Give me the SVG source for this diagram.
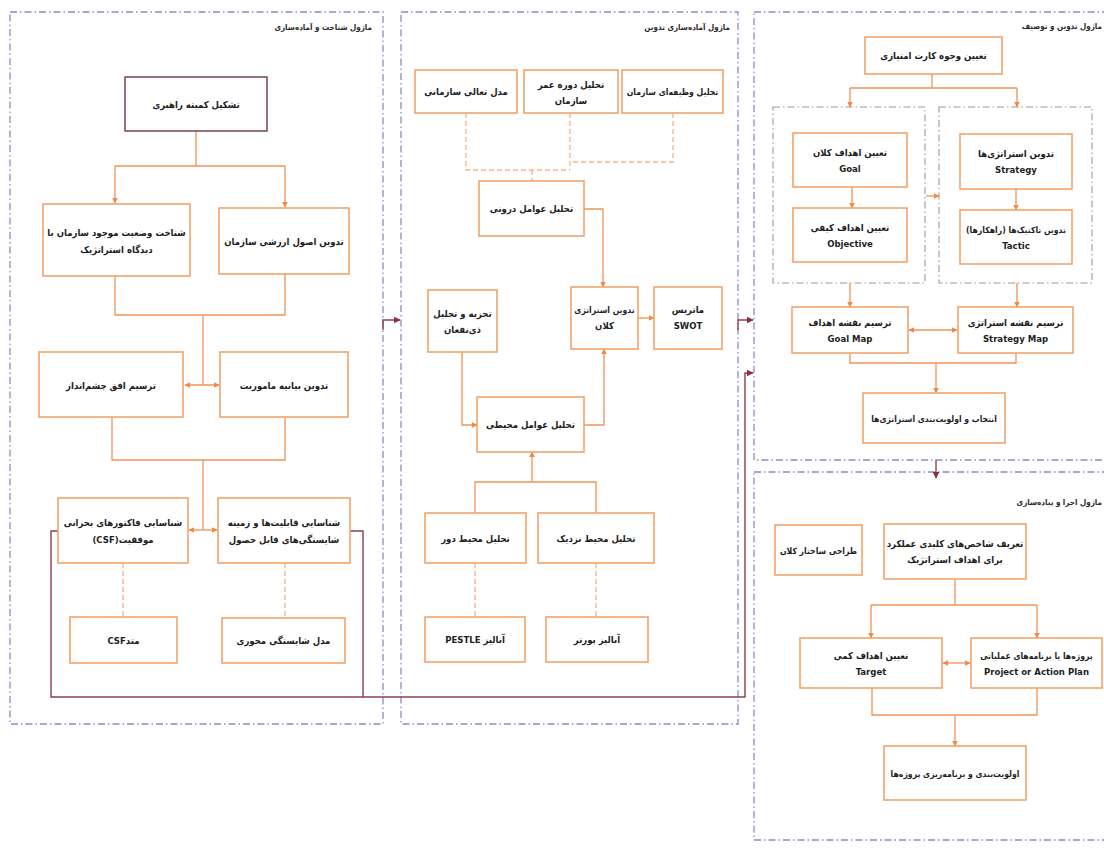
<svg xmlns="http://www.w3.org/2000/svg" width="1104" height="857" viewBox="0 0 1104 857">
  <defs>
    <style>
      .panel { fill: none; stroke: #8C8CBC; stroke-width: 1.3; stroke-dasharray: 7 3 1.5 3; }
      .group { fill: none; stroke: #9A9A9A; stroke-width: 1.1; stroke-dasharray: 7 3 1.5 3; }
      .box { fill: #FFFFFF; stroke: #F2A46A; stroke-width: 1.6; }
      .box-dark { fill: #FFFFFF; stroke: #7E4D66; stroke-width: 1.6; }
      .link { fill: none; stroke: #EE9455; stroke-width: 1.3; }
      .dash { fill: none; stroke: #F3B48A; stroke-width: 1.3; stroke-dasharray: 5 3; }
      .loop { fill: none; stroke: #8E3F52; stroke-width: 1.4; }
      .t { font-family: "DejaVu Sans Condensed", "DejaVu Sans", sans-serif; font-weight: bold; font-size: 9.5px; fill: #1E1E1E; text-anchor: middle; direction: rtl; }
      .t.s { font-size: 8.6px; }
      .title { font-family: "DejaVu Sans Condensed", "DejaVu Sans", sans-serif; font-weight: bold; font-size: 8px; fill: #2A2A2A; text-anchor: start; direction: rtl; }
    </style>
    <marker id="ah" viewBox="0 0 10 10" refX="9" refY="5" markerWidth="6" markerHeight="6" orient="auto-start-reverse" markerUnits="userSpaceOnUse">
      <path d="M0,0 L10,5 L0,10 z" fill="#EE8A45"/>
    </marker>
    <marker id="am" viewBox="0 0 10 10" refX="9" refY="5" markerWidth="7" markerHeight="7" orient="auto-start-reverse" markerUnits="userSpaceOnUse">
      <path d="M0,0 L10,5 L0,10 z" fill="#8E2F45"/>
    </marker>
  </defs>

  <rect width="1104" height="857" fill="#FFFFFF"/>

  <!-- module frames -->
  <g id="frames">
    <rect class="panel" x="10" y="12" width="373" height="712"/>
    <rect class="panel" x="401" y="12" width="337" height="712"/>
    <rect class="panel" x="754" y="12" width="356" height="448"/>
    <rect class="panel" x="754" y="472" width="356" height="368"/>
    <rect class="group" x="773" y="107" width="152" height="176"/>
    <rect class="group" x="939" y="107" width="153" height="176"/>
    <text class="title" x="372" y="30">ماژول شناخت و آماده‌سازی</text>
    <text class="title" x="730" y="30">ماژول آماده‌سازی تدوین</text>
    <text class="title" x="1102" y="29">ماژول تدوین و توصیف</text>
    <text class="title" x="1102" y="505">ماژول اجرا و پیاده‌سازی</text>
  </g>

  <!-- connectors -->
  <g id="connectors">
    <!-- module 1 -->
    <path class="link" d="M196,131 V166 M115,166 H285"/>
    <path class="link" d="M115,166 V203" marker-end="url(#ah)"/>
    <path class="link" d="M285,166 V207" marker-end="url(#ah)"/>
    <path class="link" d="M115,276 V315 H285 V274 M203,315 V385"/>
    <path class="link" d="M185,385 H219" marker-start="url(#ah)" marker-end="url(#ah)"/>
    <path class="link" d="M112,417 V460 H285 V417 M203,460 V530"/>
    <path class="link" d="M189,530 H217" marker-start="url(#ah)" marker-end="url(#ah)"/>
    <path class="dash" d="M123,563 V617 M285,563 V618"/>

    <!-- module 2 -->
    <path class="dash" d="M466,113 V170 H570 M570,113 V170 M673,113 V162 H570 M532,170 V181"/>
    <path class="link" d="M584,209 H603 V287" marker-end="url(#ah)"/>
    <path class="link" d="M638,318 H654" marker-end="url(#ah)"/>
    <path class="link" d="M462,352 V425 H477" marker-end="url(#ah)"/>
    <path class="link" d="M584,425 H604 V349" marker-end="url(#ah)"/>
    <path class="link" d="M475,513 V482 H596 V513"/>
    <path class="link" d="M532,482 V452" marker-end="url(#ah)"/>
    <path class="dash" d="M475,563 V617 M596,563 V617"/>

    <!-- module 3 -->
    <path class="link" d="M932,74 V88 M850,88 H1017"/>
    <path class="link" d="M850,88 V107" marker-end="url(#ah)"/>
    <path class="link" d="M1017,88 V107" marker-end="url(#ah)"/>
    <path class="link" d="M852,187 V208" marker-end="url(#ah)"/>
    <path class="link" d="M1016,189 V210" marker-end="url(#ah)"/>
    <path class="link" d="M926,196 H939" marker-end="url(#ah)"/>
    <path class="link" d="M850,283 V307" marker-end="url(#ah)"/>
    <path class="link" d="M1017,283 V307" marker-end="url(#ah)"/>
    <path class="link" d="M909,330 H957" marker-start="url(#ah)" marker-end="url(#ah)"/>
    <path class="link" d="M850,353 V363 H1016 V353"/>
    <path class="link" d="M936,363 V393" marker-end="url(#ah)"/>

    <!-- module 4 -->
    <path class="link" d="M955,579 V605 M871,605 H1037"/>
    <path class="link" d="M871,605 V638" marker-end="url(#ah)"/>
    <path class="link" d="M1037,605 V638" marker-end="url(#ah)"/>
    <path class="link" d="M943,663 H970" marker-start="url(#ah)" marker-end="url(#ah)"/>
    <path class="link" d="M872,688 V715 H1037 V688"/>
    <path class="link" d="M955,715 V746" marker-end="url(#ah)"/>

    <!-- links between modules -->
    <path class="loop" d="M383,330 V320 H400" marker-end="url(#am)"/>
    <path class="loop" d="M738,330 V320 H753" marker-end="url(#am)"/>
    <path class="loop" d="M58,531 H51 V697 H745 V373 H753" marker-end="url(#am)"/>
    <path class="loop" d="M350,531 H363 V697"/>
    <path class="loop" d="M936,460 V478" marker-end="url(#am)"/>
  </g>

  <!-- module 1 nodes -->
  <g id="steering-committee">
    <rect class="box-dark" x="125" y="77" width="142" height="54"/>
    <text class="t" x="196" y="108">تشکیل کمیته راهبری</text>
  </g>
  <g id="current-state">
    <rect class="box" x="43" y="204" width="147" height="72"/>
    <text class="t" x="116.5" y="236">شناخت وضعیت موجود سازمان با</text>
    <text class="t" x="116.5" y="253">دیدگاه استراتژیک</text>
  </g>
  <g id="core-values">
    <rect class="box" x="219" y="208" width="130" height="66"/>
    <text class="t" x="284" y="245">تدوین اصول ارزشی سازمان</text>
  </g>
  <g id="vision">
    <rect class="box" x="39" y="352" width="144" height="65"/>
    <text class="t" x="111" y="389">ترسیم افق چشم‌انداز</text>
  </g>
  <g id="mission">
    <rect class="box" x="220" y="352" width="128" height="65"/>
    <text class="t" x="284" y="389">تدوین بیانیه ماموریت</text>
  </g>
  <g id="csf">
    <rect class="box" x="58" y="498" width="130" height="65"/>
    <text class="t" x="123" y="526">شناسایی فاکتورهای بحرانی</text>
    <text class="t" x="123" y="543">موفقیت(CSF)</text>
  </g>
  <g id="capabilities">
    <rect class="box" x="218" y="498" width="132" height="65"/>
    <text class="t" x="284" y="526">شناسایی قابلیت‌ها و زمینه</text>
    <text class="t" x="284" y="543">شایستگی‌های قابل حصول</text>
  </g>
  <g id="csf-method">
    <rect class="box" x="70" y="617" width="107" height="46"/>
    <text class="t" x="123.5" y="644">متدCSF</text>
  </g>
  <g id="core-competence">
    <rect class="box" x="222" y="618" width="123" height="45"/>
    <text class="t" x="283.5" y="644">مدل شایستگی محوری</text>
  </g>

  <!-- module 2 nodes -->
  <g id="excellence-model">
    <rect class="box" x="415" y="70" width="102" height="43"/>
    <text class="t" x="466" y="95">مدل تعالی سازمانی</text>
  </g>
  <g id="life-cycle">
    <rect class="box" x="524" y="70" width="94" height="43"/>
    <text class="t" x="571" y="88">تحلیل دوره عمر</text>
    <text class="t" x="571" y="104">سازمان</text>
  </g>
  <g id="functional-analysis">
    <rect class="box" x="622" y="70" width="101" height="43"/>
    <text class="t s" x="672.5" y="95">تحلیل وظیفه‌ای سازمان</text>
  </g>
  <g id="internal-factors">
    <rect class="box" x="479" y="181" width="105" height="55"/>
    <text class="t" x="531.5" y="212">تحلیل عوامل درونی</text>
  </g>
  <g id="stakeholders">
    <rect class="box" x="428" y="290" width="69" height="62"/>
    <text class="t" x="462.5" y="317">تجزیه و تحلیل</text>
    <text class="t" x="462.5" y="333">ذی‌نفعان</text>
  </g>
  <g id="grand-strategy">
    <rect class="box" x="571" y="287" width="67" height="62"/>
    <text class="t s" x="604.5" y="313">تدوین استراتژی</text>
    <text class="t" x="604.5" y="329">کلان</text>
  </g>
  <g id="swot">
    <rect class="box" x="654" y="287" width="68" height="62"/>
    <text class="t" x="688" y="313">ماتریس</text>
    <text class="t" x="688" y="329">SWOT</text>
  </g>
  <g id="environment">
    <rect class="box" x="477" y="397" width="107" height="55"/>
    <text class="t" x="530.5" y="428">تحلیل عوامل محیطی</text>
  </g>
  <g id="far-environment">
    <rect class="box" x="425" y="513" width="101" height="50"/>
    <text class="t" x="475.5" y="542">تحلیل محیط دور</text>
  </g>
  <g id="near-environment">
    <rect class="box" x="538" y="513" width="116" height="50"/>
    <text class="t" x="596" y="542">تحلیل محیط نزدیک</text>
  </g>
  <g id="pestle">
    <rect class="box" x="425" y="617" width="100" height="45"/>
    <text class="t" x="475" y="643">آنالیز PESTLE</text>
  </g>
  <g id="porter">
    <rect class="box" x="546" y="617" width="102" height="45"/>
    <text class="t" x="597" y="643">آنالیز پورتر</text>
  </g>

  <!-- module 3 nodes -->
  <g id="scorecard">
    <rect class="box" x="865" y="37" width="137" height="37"/>
    <text class="t" x="933.5" y="59">تعیین وجوه کارت امتیازی</text>
  </g>
  <g id="goal">
    <rect class="box" x="793" y="133" width="114" height="54"/>
    <text class="t" x="850" y="156">تعیین اهداف کلان</text>
    <text class="t" x="850" y="172">Goal</text>
  </g>
  <g id="objective">
    <rect class="box" x="793" y="208" width="114" height="54"/>
    <text class="t" x="850" y="231">تعیین اهداف کیفی</text>
    <text class="t" x="850" y="247">Objective</text>
  </g>
  <g id="strategy">
    <rect class="box" x="960" y="134" width="112" height="55"/>
    <text class="t" x="1016" y="157">تدوین استراتژی‌ها</text>
    <text class="t" x="1016" y="173">Strategy</text>
  </g>
  <g id="tactic">
    <rect class="box" x="960" y="210" width="112" height="54"/>
    <text class="t s" x="1016" y="233">تدوین تاکتیک‌ها (راهکارها)</text>
    <text class="t" x="1016" y="249">Tactic</text>
  </g>
  <g id="goal-map">
    <rect class="box" x="792" y="307" width="116" height="46"/>
    <text class="t" x="850" y="326">ترسیم نقشه اهداف</text>
    <text class="t" x="850" y="342">Goal Map</text>
  </g>
  <g id="strategy-map">
    <rect class="box" x="958" y="307" width="115" height="46"/>
    <text class="t" x="1015.5" y="326">ترسیم نقشه استراتژی</text>
    <text class="t" x="1015.5" y="342">Strategy Map</text>
  </g>
  <g id="prioritise-strategies">
    <rect class="box" x="863" y="393" width="142" height="50"/>
    <text class="t s" x="934" y="422">انتخاب و اولویت‌بندی استراتژی‌ها</text>
  </g>

  <!-- module 4 nodes -->
  <g id="macro-structure">
    <rect class="box" x="775" y="525" width="87" height="50"/>
    <text class="t s" x="818.5" y="554">طراحی ساختار کلان</text>
  </g>
  <g id="kpi">
    <rect class="box" x="884" y="524" width="142" height="55"/>
    <text class="t" x="955" y="547">تعریف شاخص‌های کلیدی عملکرد</text>
    <text class="t" x="955" y="563">برای اهداف استراتژیک</text>
  </g>
  <g id="target">
    <rect class="box" x="800" y="638" width="142" height="50"/>
    <text class="t" x="871" y="659">تعیین اهداف کمی</text>
    <text class="t" x="871" y="675">Target</text>
  </g>
  <g id="action-plan">
    <rect class="box" x="971" y="638" width="131" height="50"/>
    <text class="t s" x="1036.5" y="659">پروژه‌ها یا برنامه‌های عملیاتی</text>
    <text class="t" x="1036.5" y="675">Project or Action Plan</text>
  </g>
  <g id="project-planning">
    <rect class="box" x="884" y="746" width="142" height="54"/>
    <text class="t s" x="955" y="777">اولویت‌بندی و برنامه‌ریزی پروژه‌ها</text>
  </g>
</svg>
